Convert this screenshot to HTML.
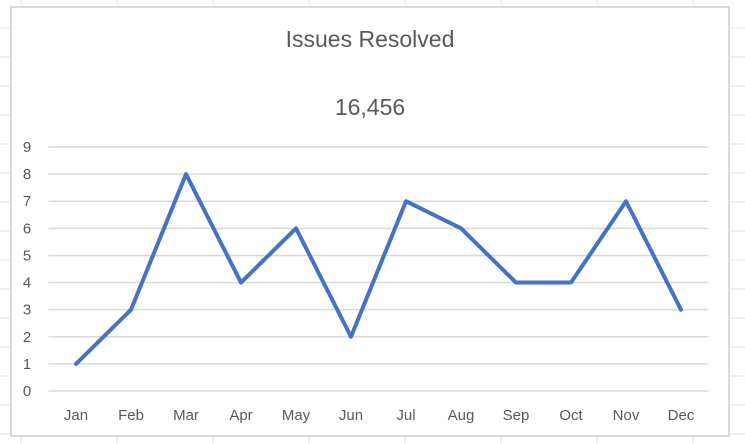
<!DOCTYPE html>
<html><head><meta charset="utf-8"><style>
html,body{margin:0;padding:0;background:#fff}
svg{display:block;font-family:"Liberation Sans",sans-serif}
</style></head><body>
<svg width="745" height="444" viewBox="0 0 745 444">
<g id="sheet-grid"></g>
<rect x="11" y="7" width="718" height="429" fill="#fff" stroke="#d9d9d9" stroke-width="2"/>
<text x="370" y="47" text-anchor="middle" font-size="23" fill="#595959">Issues Resolved</text>
<text x="370" y="115" text-anchor="middle" font-size="23" fill="#595959">16,456</text>
<g id="grid"></g>
<g id="yl"></g>
<g id="xl"></g>
<path id="line" fill="none" stroke="#4472c4" stroke-width="4" stroke-linejoin="round" stroke-linecap="round"/>
</svg>
<script>
const categories=["Jan","Feb","Mar","Apr","May","Jun","Jul","Aug","Sep","Oct","Nov","Dec"];
const values=[1,3,8,4,6,2,7,6,4,4,7,3];
const yTicks=[0,1,2,3,4,5,6,7,8,9];
const NS="http://www.w3.org/2000/svg";
const L=48.5,R=708.5,Y0=391,Y9=147;
const x=i=>L+(R-L)/categories.length*(i+0.5);
const y=v=>Y0+(Y9-Y0)*v/9;
const sg=document.getElementById('sheet-grid');
for(let gx=21;gx<745;gx+=96){const l=document.createElementNS(NS,'line');l.setAttribute('x1',gx);l.setAttribute('x2',gx);l.setAttribute('y1',0);l.setAttribute('y2',444);l.setAttribute('stroke','#e0e0e0');

sg.appendChild(l);}
for(let gy=28;gy<444;gy+=29){const l=document.createElementNS(NS,'line');l.setAttribute('x1',0);l.setAttribute('x2',745);l.setAttribute('y1',gy);l.setAttribute('y2',gy);l.setAttribute('stroke','#e0e0e0');

sg.appendChild(l);}
const g=document.getElementById('grid'),yl=document.getElementById('yl'),xl=document.getElementById('xl');
yTicks.forEach(t=>{const l=document.createElementNS(NS,'line');l.setAttribute('x1',L);l.setAttribute('x2',R);l.setAttribute('y1',y(t));l.setAttribute('y2',y(t));l.setAttribute('stroke','#d9d9d9');l.setAttribute('stroke-width','1.5');

g.appendChild(l);
const tx=document.createElementNS(NS,'text');tx.setAttribute('x',27);tx.setAttribute('y',y(t)+5);tx.setAttribute('text-anchor','middle');tx.setAttribute('font-size','15');tx.setAttribute('fill','#595959');tx.textContent=t;

yl.appendChild(tx);});
categories.forEach((c,i)=>{const tx=document.createElementNS(NS,'text');tx.setAttribute('x',x(i));tx.setAttribute('y',420);tx.setAttribute('text-anchor','middle');tx.setAttribute('font-size','15');tx.setAttribute('fill','#595959');tx.textContent=c;

xl.appendChild(tx);});
document.getElementById('line').setAttribute('d',values.map((v,i)=>(i?'L':'M')+x(i)+' '+y(v)).join(' '));
</script>
</body></html>
